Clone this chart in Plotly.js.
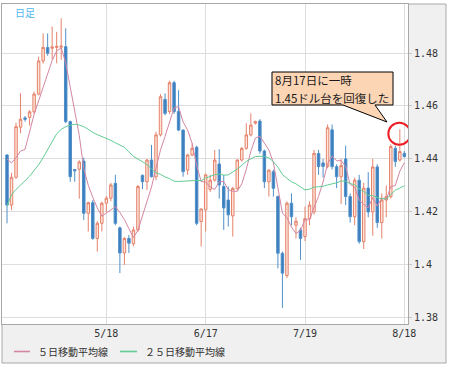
<!DOCTYPE html>
<html><head><meta charset="utf-8">
<script src="https://cdn.plot.ly/plotly-3.0.1.min.js"></script>
<style>html,body{margin:0;padding:0;background:#fff}#c{width:450px;height:369px}</style>
</head><body><div id="c"></div>
<script>
// ---- data (EUR/USD daily) ----
const dates = ["4/18","4/19","4/20","4/21","4/22","4/25","4/26","4/27","4/28","4/29",
"5/2","5/3","5/4","5/5","5/6","5/9","5/10","5/11","5/12","5/13","5/16","5/17","5/18","5/19","5/20","5/23","5/24","5/25","5/26","5/27","5/30","5/31",
"6/1","6/2","6/3","6/6","6/7","6/8","6/9","6/10","6/13","6/14","6/15","6/16","6/17","6/20","6/21","6/22","6/23","6/24","6/27","6/28","6/29","6/30",
"7/1","7/4","7/5","7/6","7/7","7/8","7/11","7/12","7/13","7/14","7/15","7/18","7/19","7/20","7/21","7/22","7/25","7/26","7/27","7/28","7/29",
"8/1","8/2","8/3","8/4","8/5","8/8","8/9","8/10","8/11","8/12","8/15","8/16","8/17","8/18"];
const open = [1.4415,1.4226,1.4331,1.4520,1.4555,1.4557,1.4578,1.4645,1.4770,1.4821,
1.4818,1.4821,1.4822,1.4824,1.4541,1.4360,1.4361,1.4392,1.4195,1.4235,1.4100,1.4157,1.4233,1.4252,1.4308,1.4140,1.4045,1.4100,1.4080,1.4132,1.4338,1.4314,
1.4396,1.4333,1.4491,1.4625,1.4579,1.4688,1.4579,1.4509,1.4358,1.4415,1.4444,1.4164,1.4208,1.4285,1.4320,1.4381,1.4296,1.4245,1.4185,1.4289,1.4396,1.4440,
1.4491,1.4535,1.4543,1.4430,1.4314,1.4352,1.4258,1.4044,1.3960,1.4233,1.4150,1.4132,1.4107,1.4175,1.4200,1.4421,1.4385,1.4372,1.4510,1.4371,1.4333,
1.4400,1.4258,1.4182,1.4320,1.4088,1.4290,1.4200,1.4370,1.4160,1.4245,1.4258,1.4440,1.4396,1.4421];
const high = [1.4418,1.4348,1.4537,1.4648,1.4562,1.4584,1.4654,1.4786,1.4874,1.4874,
1.4900,1.4880,1.4931,1.4893,1.4545,1.4362,1.4395,1.4405,1.4239,1.4245,1.4165,1.4239,1.4260,1.4310,1.4340,1.4145,1.4105,1.4113,1.4145,1.4302,1.4342,1.4400,
1.4453,1.4503,1.4645,1.4648,1.4695,1.4695,1.4660,1.4512,1.4420,1.4459,1.4450,1.4213,1.4345,1.4340,1.4434,1.4437,1.4340,1.4296,1.4295,1.4399,1.4445,1.4535,
1.4572,1.4545,1.4550,1.4435,1.4360,1.4360,1.4262,1.4050,1.4240,1.4270,1.4180,1.4140,1.4220,1.4240,1.4434,1.4434,1.4400,1.4530,1.4530,1.4380,1.4400,
1.4450,1.4270,1.4330,1.4340,1.4310,1.4350,1.4400,1.4380,1.4270,1.4300,1.4455,1.4450,1.4512,1.4430];
const low = [1.4157,1.4207,1.4325,1.4497,1.4541,1.4526,1.4570,1.4640,1.4760,1.4790,
1.4775,1.4761,1.4774,1.4535,1.4314,1.4314,1.4250,1.4170,1.4126,1.4095,1.4050,1.4126,1.4200,1.4240,1.4150,1.3969,1.4000,1.4045,1.4070,1.4125,1.4286,1.4283,
1.4330,1.4320,1.4485,1.4565,1.4570,1.4570,1.4505,1.4333,1.4340,1.4410,1.4150,1.4069,1.4126,1.4275,1.4315,1.4250,1.4132,1.4145,1.4107,1.4280,1.4390,1.4435,
1.4485,1.4530,1.4420,1.4290,1.4258,1.4258,1.3987,1.3838,1.3950,1.4150,1.4100,1.4019,1.4090,1.4150,1.4190,1.4340,1.4330,1.4365,1.4360,1.4290,1.4230,
1.4226,1.4160,1.4150,1.4080,1.4060,1.4180,1.4110,1.4140,1.4100,1.4180,1.4250,1.4370,1.4390,1.4405];
const close = [1.4226,1.4331,1.4522,1.4550,1.4550,1.4578,1.4645,1.4770,1.4821,1.4799,
1.4823,1.4825,1.4826,1.4541,1.4333,1.4355,1.4389,1.4195,1.4235,1.4100,1.4157,1.4233,1.4252,1.4302,1.4157,1.4045,1.4100,1.4082,1.4132,1.4296,1.4314,1.4396,
1.4333,1.4491,1.4635,1.4572,1.4688,1.4579,1.4509,1.4352,1.4415,1.4440,1.4157,1.4211,1.4340,1.4320,1.4396,1.4302,1.4215,1.4189,1.4289,1.4396,1.4440,1.4491,
1.4528,1.4541,1.4430,1.4314,1.4358,1.4289,1.4044,1.3969,1.4233,1.4182,1.4165,1.4100,1.4175,1.4226,1.4421,1.4371,1.4372,1.4518,1.4371,1.4333,1.4375,
1.4258,1.4182,1.4320,1.4088,1.4290,1.4200,1.4370,1.4160,1.4245,1.4258,1.4447,1.4390,1.4428,1.4409];
const ma5 = [1.4400,1.4385,1.4405,1.4430,1.4436,1.4506,1.4569,1.4619,1.4673,1.4723,
1.4772,1.4808,1.4819,1.4763,1.4670,1.4576,1.4489,1.4363,1.4301,1.4255,1.4215,1.4184,1.4195,1.4209,1.4220,1.4198,1.4171,1.4137,1.4103,1.4131,1.4185,1.4244,
1.4294,1.4366,1.4434,1.4485,1.4544,1.4593,1.4597,1.4540,1.4509,1.4459,1.4375,1.4315,1.4313,1.4294,1.4285,1.4314,1.4315,1.4284,1.4278,1.4278,1.4306,1.4361,
1.4429,1.4479,1.4486,1.4461,1.4434,1.4386,1.4287,1.4195,1.4179,1.4143,1.4119,1.4130,1.4171,1.4170,1.4217,1.4259,1.4313,1.4382,1.4411,1.4393,1.4394,
1.4371,1.4304,1.4294,1.4245,1.4228,1.4216,1.4254,1.4222,1.4253,1.4247,1.4296,1.4300,1.4354,1.4386];
const ma25 = [1.4222,1.4265,1.4285,1.4300,1.4318,1.4335,1.4355,1.4378,1.4405,1.4435,
1.4465,1.4495,1.4512,1.4522,1.4527,1.4531,1.4528,1.4522,1.4512,1.4500,1.4492,1.4485,1.4478,1.4470,1.4461,1.4453,1.4444,1.4427,1.4410,1.4400,1.4389,1.4379,
1.4362,1.4348,1.4342,1.4332,1.4326,1.4316,1.4315,1.4316,1.4318,1.4320,1.4319,1.4318,1.4328,1.4334,1.4341,1.4343,1.4339,1.4340,1.4350,1.4362,1.4376,1.4391,
1.4400,1.4409,1.4410,1.4410,1.4404,1.4390,1.4369,1.4341,1.4327,1.4314,1.4306,1.4294,1.4283,1.4286,1.4294,1.4295,1.4297,1.4302,1.4305,1.4310,1.4317,
1.4316,1.4307,1.4303,1.4287,1.4277,1.4263,1.4261,1.4255,1.4250,1.4249,1.4265,1.4282,1.4290,1.4299];
const xTicks = ["5/18","6/17","7/19","8/18"];
const yTicks = [1.38,1.40,1.42,1.44,1.46,1.48];
const legendNames = ["５日移動平均線","２５日移動平均線"];
const titleTag = "日足";
const noteLines = ["8月17日に一時","1.45ドル台を回復した"];
const noteDate = "8/17";

// ---- layout helpers (pixel -> paper) ----
const W=450,H=369, L=2, R=408, T=4, B=324;
const PX = x => (x-L)/(R-L);
const PY = y => (B-y)/(B-T);
const noteIdx = dates.indexOf(noteDate);
const MA5C = '#d486a4', MA25C = '#62cc94';

const traces = [
  {type:'candlestick', x:dates, open:open, high:high, low:low, close:close,
   increasing:{line:{color:'#e5826a',width:1}, fillcolor:'#fde3d8'},
   decreasing:{line:{color:'#4f8fc8',width:1}, fillcolor:'#3a7dbd'},
   whiskerwidth:0, hoverinfo:'skip', showlegend:false},
  {type:'scatter', mode:'lines', x:dates, y:ma5, line:{color:MA5C,width:1}, hoverinfo:'skip', showlegend:false},
  {type:'scatter', mode:'lines', x:dates, y:ma25, line:{color:MA25C,width:1}, hoverinfo:'skip', showlegend:false}
];

const P = (x,y)=> PX(x).toFixed(4)+','+PY(y).toFixed(4);
const bubble = 'M'+P(272,72)+' L'+P(393,72)+' L'+P(393,105)+' L'+P(375,105)+' L'+P(387,122)+' L'+P(343,105)+' L'+P(272,105)+' Z';

const shapes = [
  {type:'rect', xref:'paper', yref:'paper', x0:PX(2), x1:PX(446), y0:PY(363), y1:PY(4), fillcolor:'#f0f0f0', line:{color:'#a8a8a8',width:1}, layer:'below'},
  {type:'rect', xref:'paper', yref:'paper', x0:0, x1:1, y0:0, y1:1, fillcolor:'#ffffff', line:{width:0}, layer:'below'},
  {type:'path', xref:'paper', yref:'paper', path:bubble, fillcolor:'#fcd5b5', line:{color:'#000',width:1}, layer:'above'},
  {type:'circle', xref:'x', yref:'y', xsizemode:'pixel', ysizemode:'pixel', xanchor:noteIdx, yanchor:high[noteIdx],
   x0:-11.5, x1:10.5, y0:-15.5, y1:6.5, line:{color:'#ee1c24',width:2}, fillcolor:'rgba(0,0,0,0)', layer:'above'},
  {type:'line', xref:'paper', yref:'paper', x0:PX(14), x1:PX(30), y0:PY(351.5), y1:PY(351.5), line:{color:MA5C,width:1.6}},
  {type:'line', xref:'paper', yref:'paper', x0:PX(120), x1:PX(137), y0:PY(351.5), y1:PY(351.5), line:{color:MA25C,width:1.6}}
];

const cjk = '"Noto Sans CJK JP", "Noto Sans", sans-serif';
const annotations = [
  {xref:'paper', yref:'paper', x:PX(13), y:PY(12.5), xanchor:'left', yanchor:'middle', text:titleTag, showarrow:false, font:{family:cjk,size:10,color:'#4fb6ee'}},
  {xref:'paper', yref:'paper', x:PX(273), y:PY(80.5), xanchor:'left', yanchor:'middle', text:noteLines[0], showarrow:false, font:{family:cjk,size:11.5,color:'#1a1a1a'}},
  {xref:'paper', yref:'paper', x:PX(273), y:PY(98), xanchor:'left', yanchor:'middle', text:noteLines[1], showarrow:false, font:{family:cjk,size:11.5,color:'#1a1a1a'}},
  {xref:'paper', yref:'paper', x:PX(36), y:PY(351.5), xanchor:'left', yanchor:'middle', text:legendNames[0], showarrow:false, font:{family:cjk,size:10,color:'#333'}},
  {xref:'paper', yref:'paper', x:PX(143), y:PY(351.5), xanchor:'left', yanchor:'middle', text:legendNames[1], showarrow:false, font:{family:cjk,size:10,color:'#333'}}
];

const layout = {
  width:W, height:H, margin:{l:L, r:W-R, t:T, b:H-B, pad:0},
  paper_bgcolor:'#ffffff', plot_bgcolor:'rgba(0,0,0,0)',
  showlegend:false, boxgap:0.22,
  xaxis:{type:'category', categoryorder:'trace', range:[-1.11,88.81], tickvals:xTicks, ticktext:xTicks,
         showgrid:true, gridcolor:'#dedede', gridwidth:1, showline:true, mirror:true, linecolor:'#a8a8a8', linewidth:1,
         ticks:'', tickfont:{family:'"DejaVu Sans Mono", monospace', size:10, color:'#333'},
         rangeslider:{visible:false}, fixedrange:true, zeroline:false},
  yaxis:{side:'right', range:[1.3777,1.4985], tickvals:yTicks, ticktext:yTicks.map(v=>String(+v.toFixed(2))),
         showgrid:true, gridcolor:'#dedede', gridwidth:1, showline:true, mirror:true, linecolor:'#a8a8a8', linewidth:1,
         ticks:'outside', ticklen:3, tickcolor:'#c8c8c8', tickfont:{family:'"DejaVu Sans Mono", monospace', size:10, color:'#333'},
         fixedrange:true, zeroline:false},
  shapes:shapes, annotations:annotations
};
Plotly.newPlot('c', traces, layout, {displayModeBar:false, staticPlot:true});
</script></body></html>
